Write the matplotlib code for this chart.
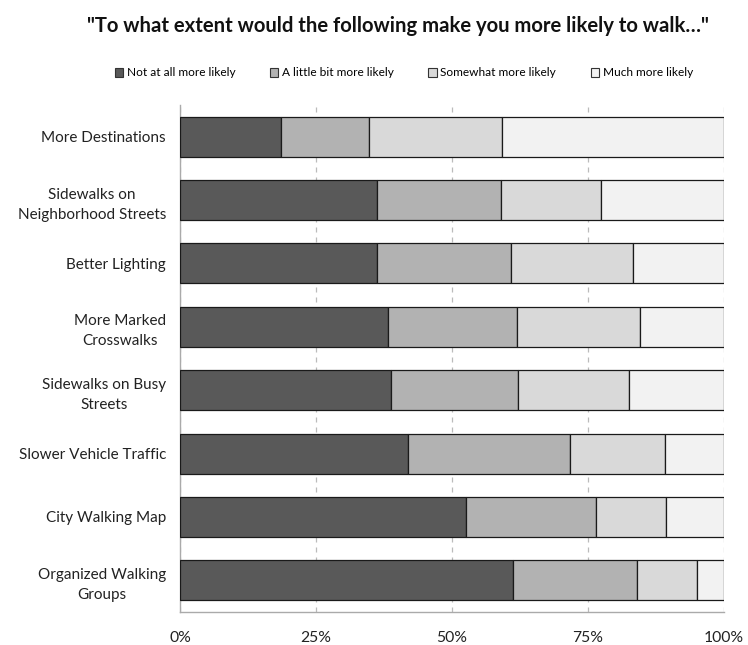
import matplotlib
matplotlib.use("Agg")
import matplotlib.pyplot as plt
from matplotlib.patches import Patch
from matplotlib.ticker import FuncFormatter

plt.rcParams['font.family'] = ['Lato', 'DejaVu Sans']

categories = [
    "More Destinations",
    "Sidewalks on\nNeighborhood Streets",
    "Better Lighting",
    "More Marked\nCrosswalks",
    "Sidewalks on Busy\nStreets",
    "Slower Vehicle Traffic",
    "City Walking Map",
    "Organized Walking\nGroups",
]
series_names = ["Not at all more likely", "A little bit more likely",
                "Somewhat more likely", "Much more likely"]
not_at_all = [18.6, 36.2, 36.2, 38.2, 38.8, 41.9, 52.6, 61.2]
little_bit = [16.1, 22.8, 24.6, 23.7, 23.3, 29.8, 23.9, 22.8]
somewhat = [24.5, 18.4, 22.5, 22.7, 20.4, 17.5, 12.8, 11.0]
much = [40.8, 22.6, 16.7, 15.4, 17.5, 10.8, 10.7, 5.0]
colors = ["#595959", "#b2b2b2", "#d9d9d9", "#f2f2f2"]

fig = plt.figure(figsize=(7.48, 6.45), dpi=100)
ax = fig.add_axes([180/748, 1-612/645, 544/748, 507/645])

ypos = list(range(len(categories)))
left = [0.0] * len(categories)
for vals, col, name in zip([not_at_all, little_bit, somewhat, much], colors, series_names):
    ax.barh(ypos, vals, left=left, height=0.63, color=col, edgecolor="#1a1a1a",
            linewidth=0.9, label=name, zorder=3)
    left = [l + v for l, v in zip(left, vals)]

ax.set_ylim(len(categories) - 0.5, -0.5)
ax.set_xlim(0, 100)
ax.set_yticks(ypos)
ax.set_yticklabels(categories, fontsize=11, color="#222222",
                   multialignment="center", linespacing=1.55)
ax.set_xticks([0, 25, 50, 75, 100])
ax.xaxis.set_major_formatter(FuncFormatter(lambda v, p: f"{int(v)}%"))
ax.tick_params(axis="x", length=0, pad=14, labelsize=11.3, colors="#222222")
ax.tick_params(axis="y", length=0, pad=10)
ax.grid(axis="x", color="#bbbbbb", linestyle=(0, (4, 4)), linewidth=0.9, zorder=0)
for s in ["top", "right"]:
    ax.spines[s].set_visible(False)
for s in ["left", "bottom"]:
    ax.spines[s].set_color("#aaaaaa")
    ax.spines[s].set_linewidth(1.0)

handles = [Patch(facecolor=c, edgecolor="#333333", linewidth=0.8) for c in colors]
fig.legend(handles, series_names, loc="center", bbox_to_anchor=(0.540, 1-73/645),
           ncol=4, frameon=False, fontsize=8.6, handlelength=0.7, handleheight=0.7,
           handletextpad=0.3, columnspacing=2.9)

fig.text(0.532, 1-26/645, "\"To what extent would the following make you more likely to walk\u2026\"",
         ha="center", va="center", fontsize=14.6, fontweight="bold", color="#111111")

fig.savefig("out.png", dpi=100)
